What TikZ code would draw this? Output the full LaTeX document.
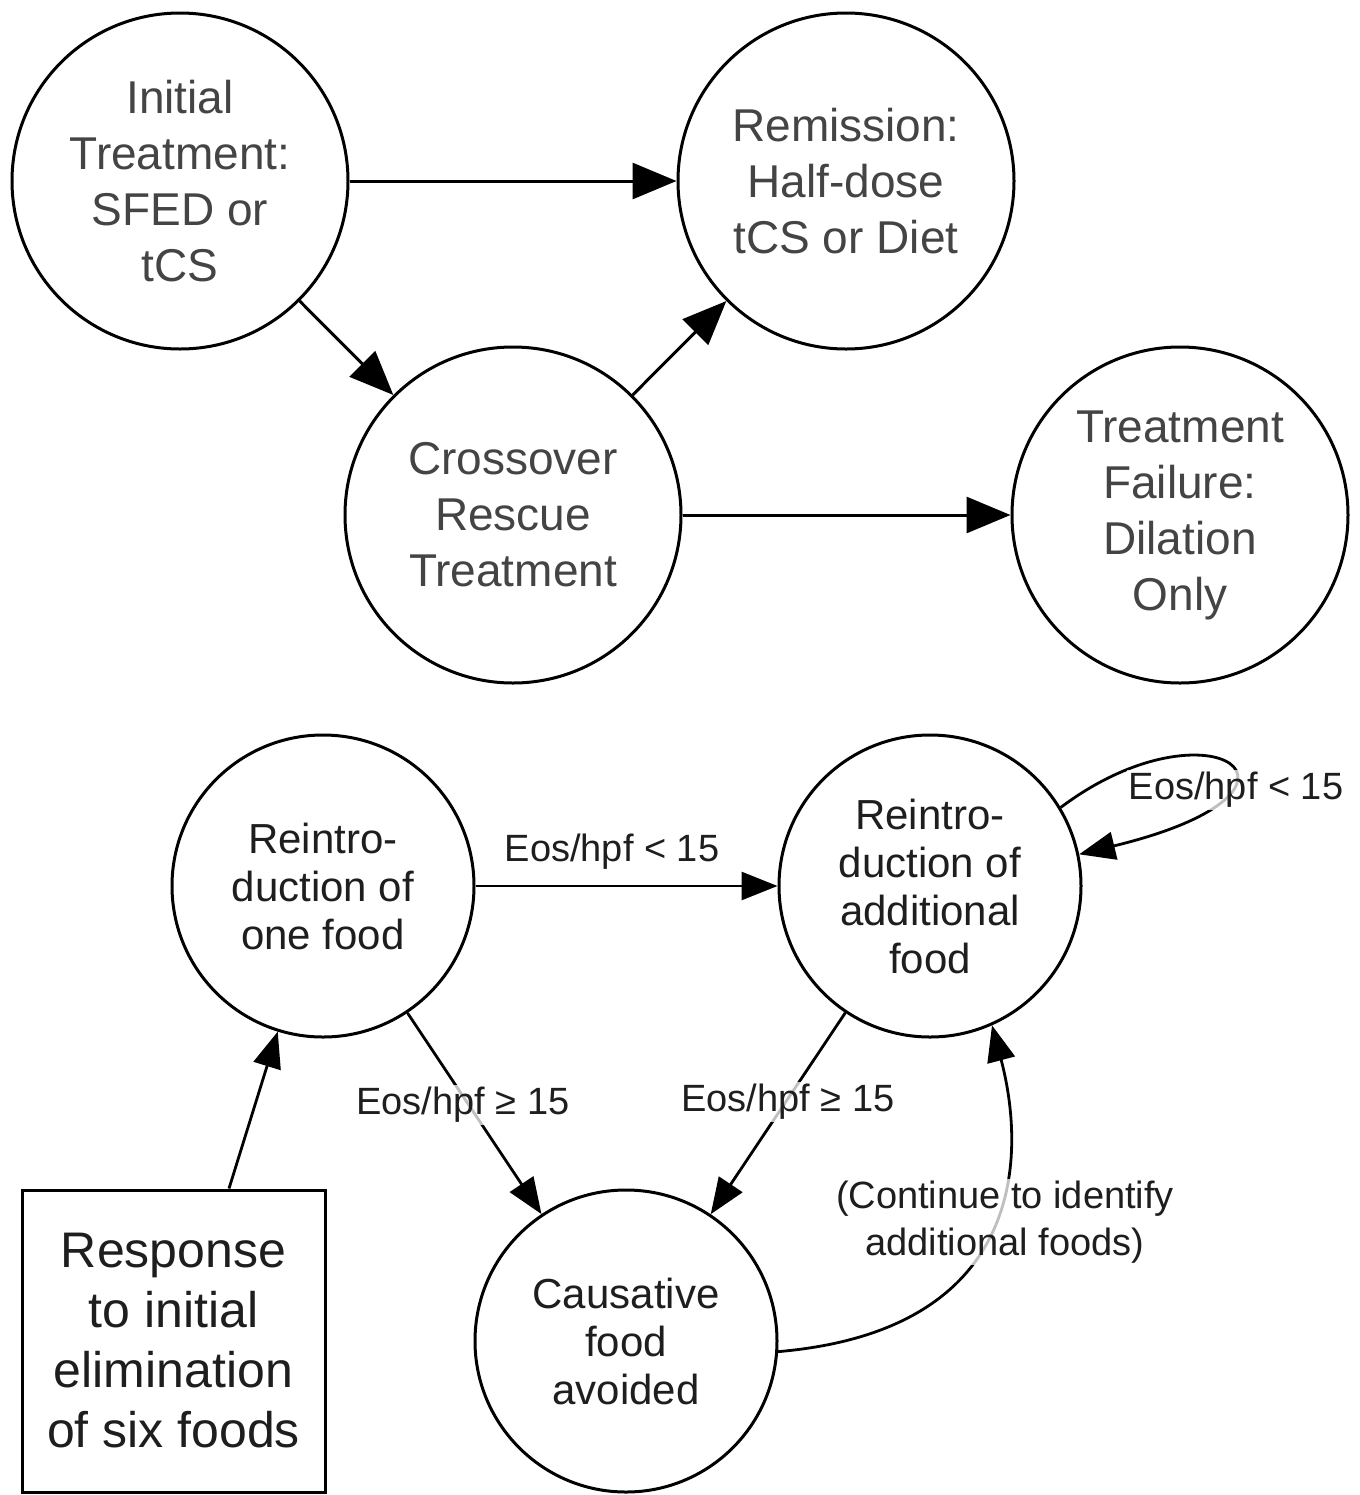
\documentclass[tikz,border=0pt]{standalone}
\usepackage{fontspec}
\setmainfont{Liberation Sans}
\usetikzlibrary{arrows.meta}
\definecolor{topink}{HTML}{444444}
\definecolor{botink}{HTML}{1E1E1E}
\tikzset{
  bigcirc/.style={circle,draw,line width=1.5pt,minimum size=168pt,inner sep=0pt,align=center,
    text=topink,font=\fontsize{23pt}{28pt}\selectfont},
  smallcirc/.style={circle,draw,line width=1.5pt,minimum size=151pt,inner sep=0pt,align=center,
    text=botink,font=\fontsize{21pt}{24pt}\selectfont},
  boxnode/.style={rectangle,draw,line width=1.5pt,minimum width=151.5pt,minimum height=151pt,inner sep=0pt,align=center,
    text=botink,font=\fontsize{25pt}{30pt}\selectfont},
  bigarrow/.style={line width=1.5pt,-{Triangle[length=22pt,width=18pt]}},
  smallarrow/.style={line width=1.4pt,-{Triangle[length=18pt,width=14pt]}},
  edgelabel/.style={fill=white,fill opacity=0.75,text opacity=1,inner sep=1pt,text=botink,font=\fontsize{19pt}{22pt}\selectfont,align=center},
}
\begin{document}
\begin{tikzpicture}[x=0.5pt,y=-0.5pt]
\useasboundingbox[fill=white] (0,0) rectangle (1360,1495);
% top diagram
\node[bigcirc] (init) at (180,181) {Initial\\Treatment:\\SFED or\\tCS};
\node[bigcirc] (rem) at (846,181) {Remission:\\Half-dose\\tCS or Diet};
\node[bigcirc] (cross) at (513,515) {Crossover\\Rescue\\Treatment};
\node[bigcirc] (fail) at (1180,515) {Treatment\\Failure:\\Dilation\\Only};
\draw[bigarrow] (init) -- (rem);
\draw[bigarrow] (init) -- (cross);
\draw[bigarrow] (cross) -- (rem);
\draw[bigarrow] (cross) -- (fail);
% bottom diagram
\node[smallcirc] (one) at (323,886) {Reintro-\\duction of\\one food};
\node[smallcirc] (add) at (930,886) {Reintro-\\duction of\\additional\\food};
\node[smallcirc] (caus) at (626,1341) {Causative\\food\\avoided};
\node[boxnode] (box) at (173.5,1341) {Response\\to initial\\elimination\\of six foods};
\draw[smallarrow] (one) -- (add);
\node[edgelabel,fill=none] (toplab) at (612,852) {Eos/hpf < 15};
\draw[smallarrow] (add.31) .. controls (1210,695) and (1345,790) .. (add.12);
\node[edgelabel] (looplab) at (1236,790) {Eos/hpf < 15};
\draw[smallarrow] (one) -- (caus);
\node[edgelabel] (lab1) at (463,1105) {Eos/hpf ≥ 15};
\draw[smallarrow] (add) -- (caus);
\node[edgelabel] (lab2) at (788,1102) {Eos/hpf ≥ 15};
\draw[smallarrow] (box.70) -- (one);
\draw[smallarrow] (caus.-4) .. controls (1030,1330) and (1025,1150) .. (add.-66);
\node[edgelabel,font=\fontsize{19pt}{23.5pt}\selectfont] (contlab) at (1005,1222) {(Continue to identify\\additional foods)};
\end{tikzpicture}
\end{document}
